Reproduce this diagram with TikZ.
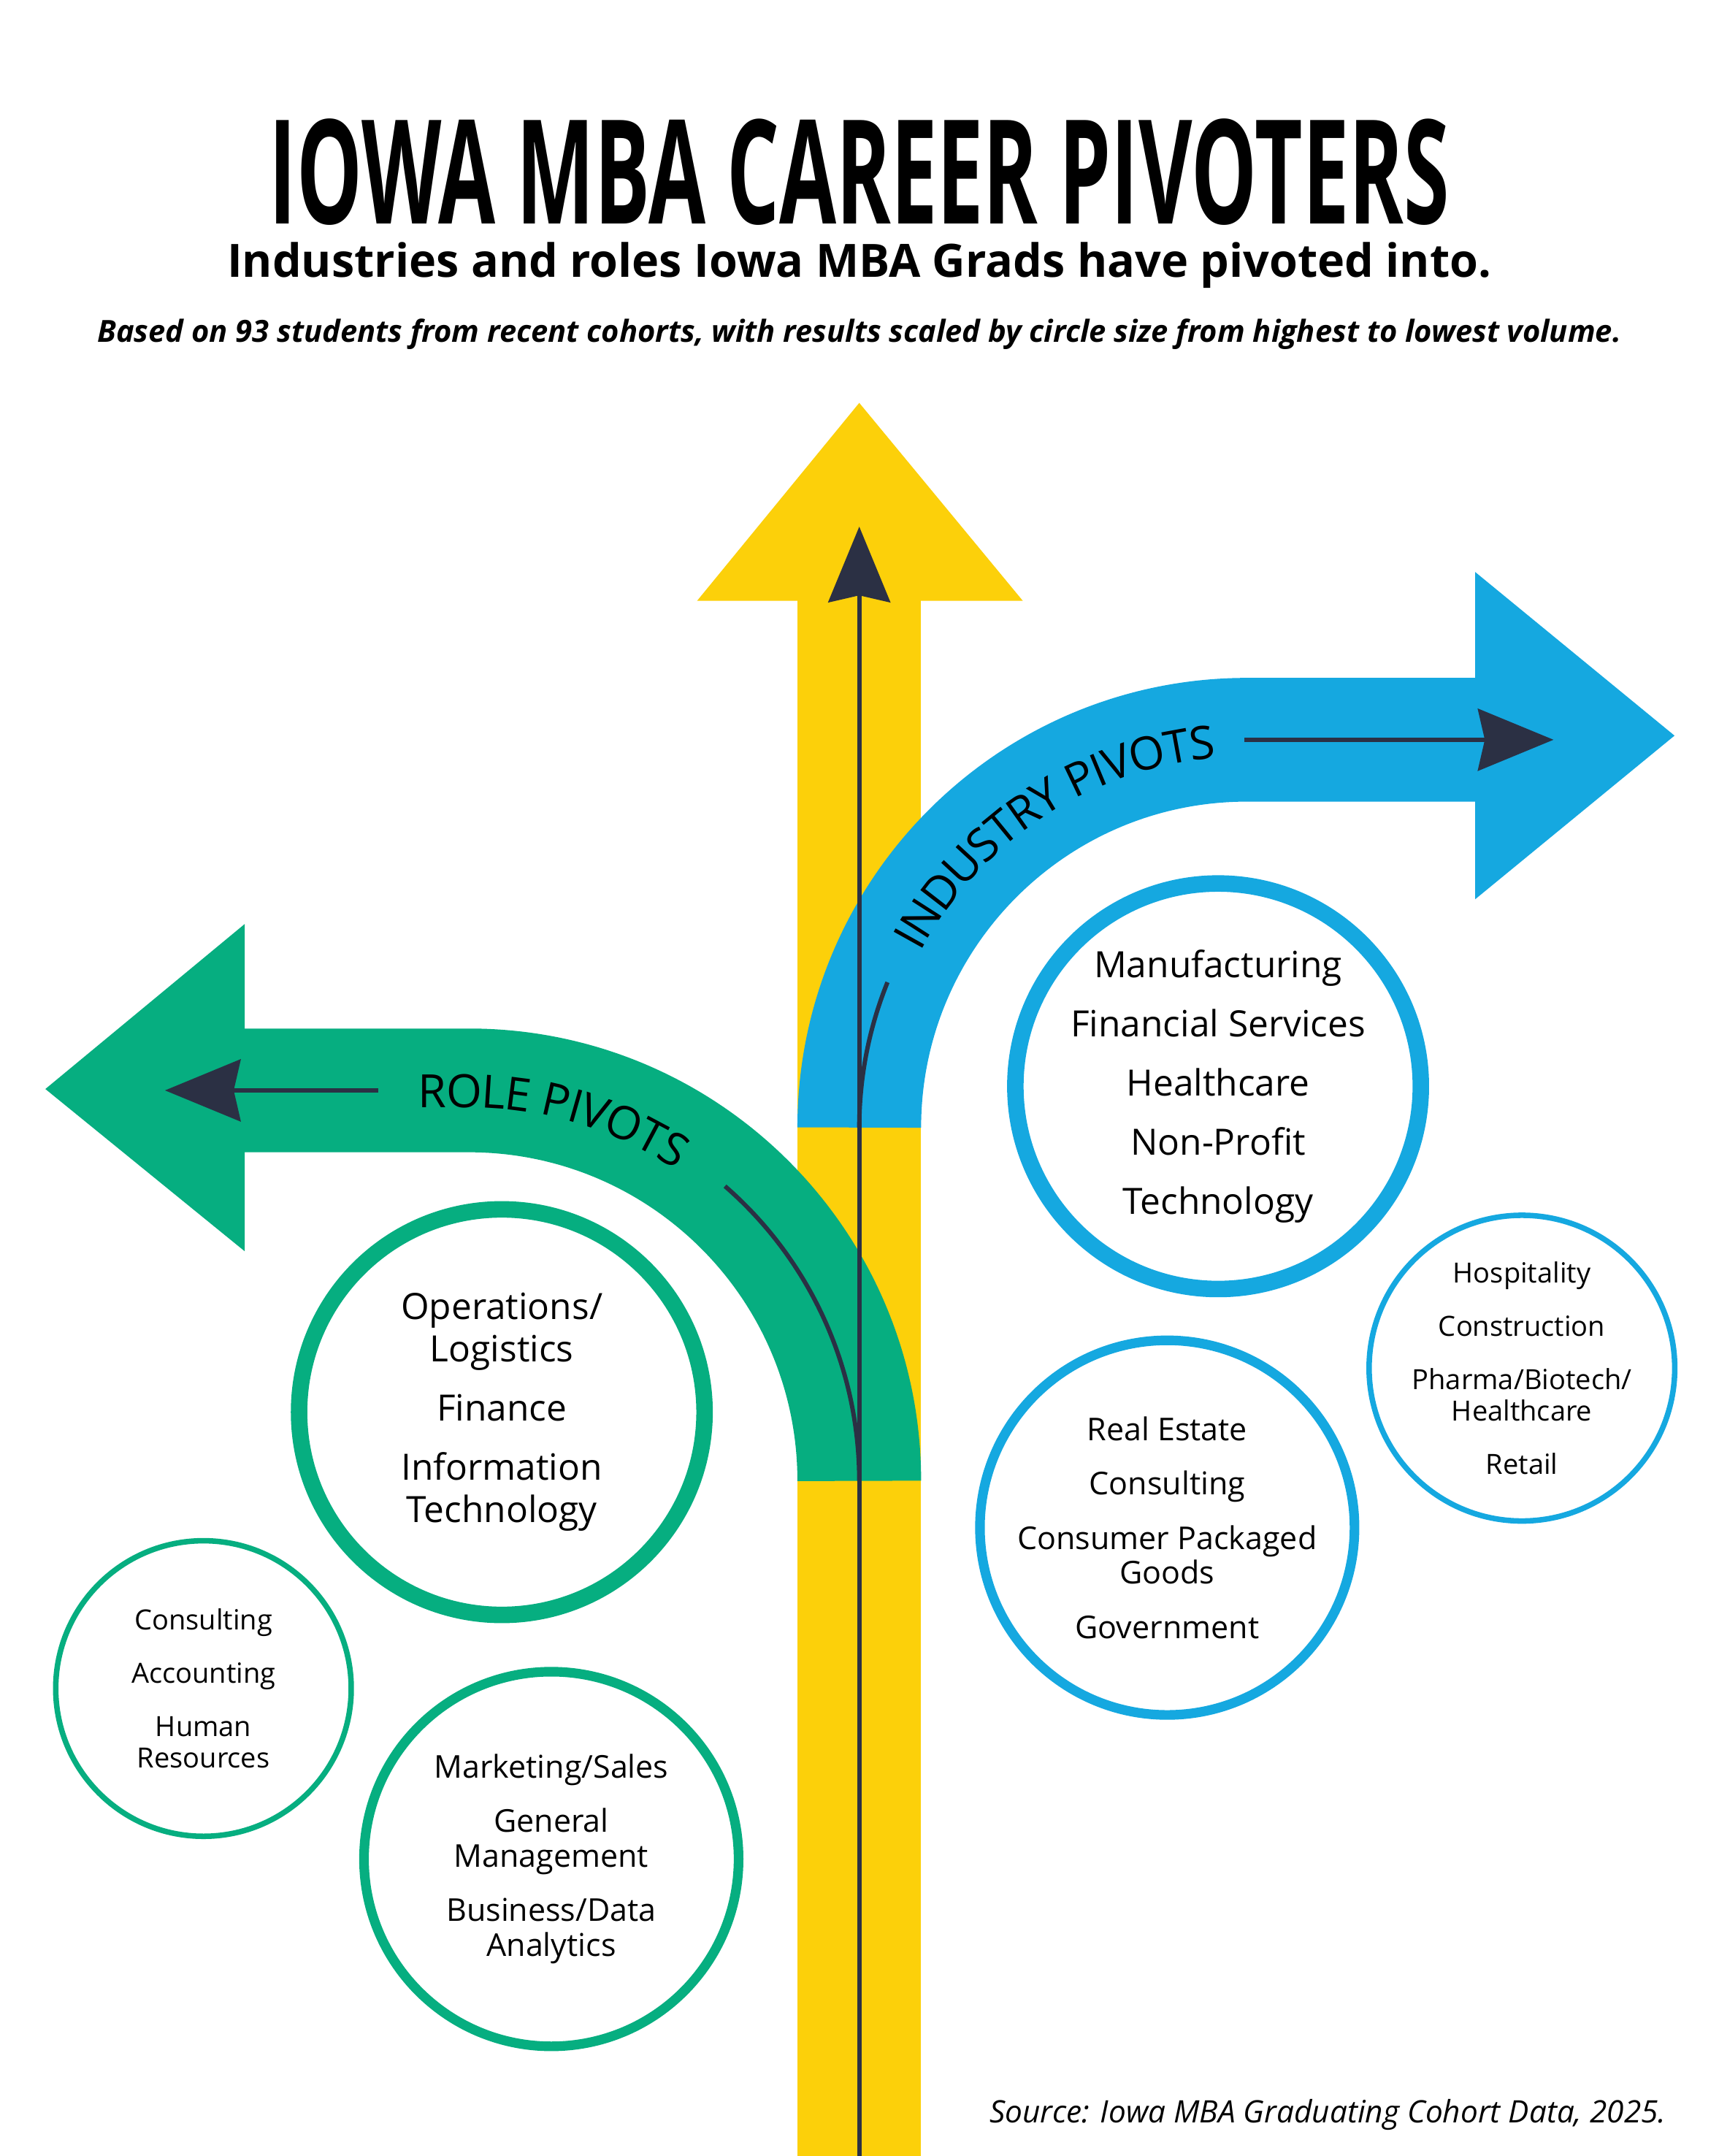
\documentclass[tikz,border=0pt]{standalone}
\usepackage{fontspec}
\setmainfont{Open Sans}
\usetikzlibrary{arrows.meta,decorations.text}
\definecolor{roleGreen}{HTML}{06AE80}
\definecolor{indBlue}{HTML}{15A8E0}
\definecolor{roadYellow}{HTML}{FCD00A}
\definecolor{lineDark}{HTML}{2B3044}
\tikzset{
  ring/.style={circle, draw, fill=white, align=center, inner sep=0pt},
  big ring/.style={ring, line width=0.24cm, minimum size=5.9cm, font=\fontsize{15}{17.5}\selectfont},
  mid ring/.style={ring, line width=0.14cm, minimum size=5.45cm, font=\fontsize{13}{14.5}\selectfont},
  small ring/.style={ring, line width=0.08cm, minimum size=4.3cm, font=\fontsize{11.5}{13}\selectfont},
  guide/.style={lineDark, line width=1.8pt},
  tip/.style={-{Stealth[length=1.1cm,width=0.9cm,inset=0.1cm]}},
  band/.style={line width=1.8cm}
}
\begin{document}
\begin{tikzpicture}[x=0.02cm,y=0.02cm]
\useasboundingbox (0,0) rectangle (1250,-1568);
% titles
\node (title) at (625,-125) {\scalebox{0.57}[1]{\fontsize{60}{60}\selectfont\bfseries IOWA MBA CAREER PIVOTERS}};
\node (sub) at (625,-193) {\fontsize{19}{22}\selectfont\bfseries Industries and roles Iowa MBA Grads have pivoted into.};
\node (note) at (625,-243) {\fontsize{12.6}{14}\selectfont\bfseries\itshape Based on 93 students from recent cohorts, with results scaled by circle size from highest to lowest volume.};
% yellow road
\fill[roadYellow] (580,-1568) rectangle (670,-436);
\fill[roadYellow] (507,-437) -- (744,-437) -- (625,-293) -- cycle;
% industry band
\draw[band, indBlue] (625,-820) arc (180:90:282) -- (1074,-538);
\fill[indBlue] (1073,-416) -- (1073,-654) -- (1218,-535) -- cycle;
% role band
\draw[band, roleGreen] (625,-1077) arc (0:90:284) -- (177,-793);
\fill[roleGreen] (178,-672) -- (178,-910) -- (33,-792) -- cycle;
% guide lines
\coordinate (base) at (625,-1568);
\coordinate (up) at (625,-383);
\draw[guide, tip] (base) -- (up);
\draw[guide] (625,-820) arc (180:158:282);
\draw[guide, tip] (905,-538) -- (1130,-538);
\draw[guide] (625,-1077) arc (0:49:284);
\draw[guide, tip] (275,-793) -- (120,-793);
% curved labels
\path[decorate, decoration={text along path, text align=center, raise=-7pt,
  text={|\fontsize{19}{19}\selectfont|INDUSTRY PIVOTS}}]
  (907,-820) ++(157:282) arc (157:90:282) -- (905,-538);
\path[decorate, decoration={text along path, text align=center, raise=-7pt,
  text={|\fontsize{19}{19}\selectfont|ROLE PIVOTS}}]
  (282,-793) -- (341,-793) arc (90:52:284);
% role circles
\node[big ring, draw=roleGreen] (ops) at (365,-1027)
  {Operations/\\Logistics\\[7pt]Finance\\[7pt]Information\\Technology};
\node[small ring, draw=roleGreen] (cons) at (148,-1228)
  {Consulting\\[9pt]Accounting\\[9pt]Human\\Resources};
\node[mid ring, draw=roleGreen] (mkt) at (401,-1352)
  {Marketing/Sales\\[8pt]General\\Management\\[8pt]Business/Data\\Analytics};
% industry circles
\node[big ring, draw=indBlue] (mfg) at (886,-790)
  {Manufacturing\\[7pt]Financial Services\\[7pt]Healthcare\\[7pt]Non-Profit\\[7pt]Technology};
\node[mid ring, draw=indBlue] (re) at (849,-1111)
  {Real Estate\\[8pt]Consulting\\[8pt]Consumer Packaged\\Goods\\[8pt]Government};
\node[small ring, draw=indBlue] (hosp) at (1107,-995)
  {Hospitality\\[9pt]Construction\\[9pt]Pharma/Biotech/\\Healthcare\\[9pt]Retail};
% source
\node[anchor=east] (src) at (1218,-1538) {\fontsize{12.8}{14}\selectfont\itshape Source: Iowa MBA Graduating Cohort Data, 2025.};
\end{tikzpicture}
\end{document}
